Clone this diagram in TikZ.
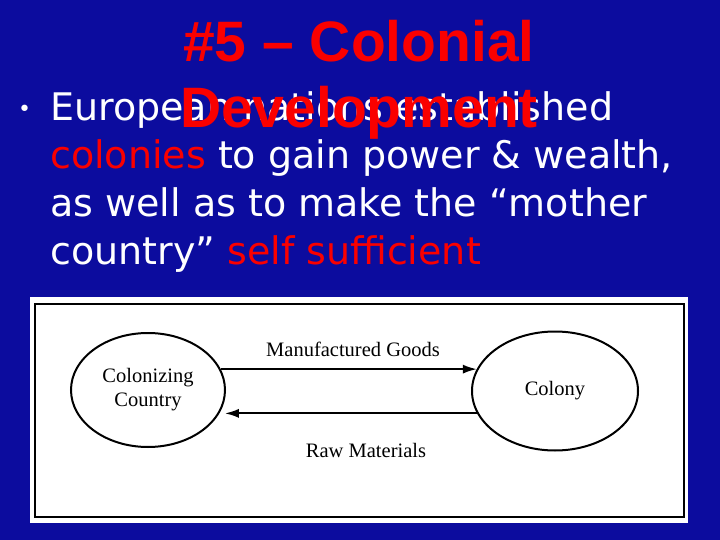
\documentclass[tikz,border=0pt]{standalone}
\usepackage{fontspec}
\setmainfont{DejaVu Sans}
\newfontfamily\titlefont{Liberation Sans}
\newfontfamily\figfont{Liberation Serif}
\usetikzlibrary{arrows.meta,shapes.geometric}
\definecolor{slideblue}{RGB}{12,12,158}
\definecolor{slidered}{RGB}{250,0,0}
\tikzstyle{slidetitle} = [text=slidered, font=\titlefont\bfseries\fontsize{57}{66}\selectfont, align=center, inner sep=0pt]
\tikzstyle{bullettext} = [text=white, font=\fontsize{38}{48}\selectfont, align=left, inner sep=0pt]
\tikzstyle{place} = [draw=black, line width=2pt, ellipse, inner sep=0pt, font=\figfont\fontsize{20.5}{24}\selectfont, align=center]
\tikzstyle{flowlabel} = [font=\figfont\fontsize{20.5}{24}\selectfont, inner sep=0pt]
\tikzstyle{flow} = [line width=2pt, -{Latex[length=14pt,width=9pt]}]

\begin{document}
\begin{tikzpicture}[x=1pt,y=-1pt]
\useasboundingbox (0,0) rectangle (720,540);
\fill[slideblue] (0,0) rectangle (720,540);
\node[bullettext, anchor=base west] (body) at (50,264) {European nations established\\
\textcolor{slidered}{colonies} to gain power \& wealth,\\
as well as to make the “mother\\
country” \textcolor{slidered}{self sufficient}};
\node[text=white, font=\fontsize{22}{22}\selectfont, inner sep=0pt, anchor=base west] (dot) at (18,117) {•};
\node[slidetitle, anchor=base] (title) at (359,128) {\#5 – Colonial\\Development};
\node[fill=white, minimum width=658pt, minimum height=226pt, anchor=north west, inner sep=0pt] (panel) at (30,297) {};
\node[draw=black, line width=2pt, minimum width=649pt, minimum height=213pt, anchor=north west, inner sep=0pt] (frame) at (34,303) {};
\node[place, minimum width=154pt, minimum height=114pt] (home) at (148,390) {Colonizing\\Country};
\node[place, minimum width=166pt, minimum height=119pt] (colony) at (555,391) {Colony};
\draw[flow] (home.16) -- (colony.164 |- home.16);
\draw[flow, shorten >=4pt] (colony.196) -- (home.344 |- colony.196);
\node[flowlabel, anchor=base] (goods) at (353,356) {Manufactured Goods};
\node[flowlabel, anchor=base] (raw) at (366,457) {Raw Materials};
\end{tikzpicture}
\end{document}
